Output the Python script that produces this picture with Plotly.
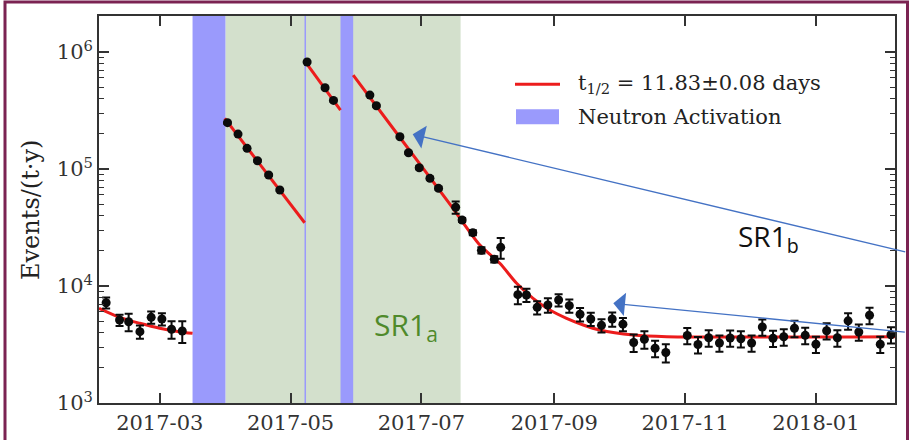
import plotly.graph_objects as go

# ---------------- data ----------------
pt_dates = [
    # before first activation
    "2017-02-04", "2017-02-10 06:00", "2017-02-14 12:00", "2017-02-19 18:00",
    "2017-02-25", "2017-03-02", "2017-03-06 12:00", "2017-03-11 12:00",
    # after first activation
    "2017-04-01 14:00", "2017-04-06 12:00", "2017-04-10 17:00", "2017-04-15 14:00",
    "2017-04-20 19:00", "2017-04-26",
    # after the short activation
    "2017-05-08 17:00", "2017-05-17 02:00", "2017-05-21",
    # after second activation
    "2017-06-07", "2017-06-10", "2017-06-21", "2017-06-25", "2017-06-30",
    "2017-07-05", "2017-07-09", "2017-07-17", "2017-07-20", "2017-07-25",
    "2017-07-29", "2017-08-04", "2017-08-07", "2017-08-15", "2017-08-19",
    "2017-08-24", "2017-08-29", "2017-09-03", "2017-09-08", "2017-09-13",
    "2017-09-18", "2017-09-23", "2017-09-28", "2017-10-03", "2017-10-08",
    "2017-10-13", "2017-10-18", "2017-10-23", "2017-11-02", "2017-11-07",
    "2017-11-12", "2017-11-17", "2017-11-22", "2017-11-27", "2017-12-02",
    "2017-12-07", "2017-12-12", "2017-12-17", "2017-12-22", "2017-12-27",
    "2018-01-01", "2018-01-06", "2018-01-11", "2018-01-16", "2018-01-21",
    "2018-01-26", "2018-01-31", "2018-02-05",
]
pt_values = [
    7200, 5120, 4950, 4070, 5400, 5220, 4270, 4125,
    249000, 199000, 150300, 117800, 88900, 66200,
    822000, 495000, 386000,
    428500, 347500, 188800, 137800, 102600,
    83300, 68400, 47100, 36650, 28560,
    20190, 16910, 21410, 8430, 8380,
    6570, 6880, 7590, 6790, 5730,
    5220, 4610, 5220, 4720, 3290,
    3510, 2935, 2700, 3775, 3160,
    3610, 3260, 3595, 3545, 3260,
    4465, 3580, 3680, 4350, 3790,
    3180, 4150, 3610, 5040, 4045,
    5620, 3180, 3835,
]
pt_err_pct = [
    11, 11, 17, 13, 12, 12, 17, 21,
    2, 2, 2, 2, 2, 2,
    2, 2, 2,
    2, 2, 2, 2, 3,
    3, 3, 12, 4, 5,
    6, 6, 20, 17, 13,
    13, 14, 12, 13, 13,
    13, 13, 14, 13, 17,
    17, 16, 18, 16, 16,
    16, 16, 16, 16, 16,
    16, 16, 16, 16, 16,
    16, 16, 16, 16, 16,
    16, 16, 16,
]

# fitted curves (t1/2 = 11.83 d)
fit1_dates = ["2017-01-31 16:00", "2017-02-10 07:00", "2017-02-19 17:00",
              "2017-03-01", "2017-03-10", "2017-03-16 07:00"]
fit1_values = [6445, 5400, 4800, 4350, 4070, 3940]
fit2_dates = ["2017-03-31 07:00", "2017-05-07 14:00"]
fit2_values = [271000, 34750]
fit3_dates = ["2017-05-08 10:00", "2017-05-24 07:00"]
fit3_values = [800000, 319000]
fit4_dates = ["2017-05-30 05:00", "2017-06-21", "2017-07-14 07:00", "2017-07-28 07:00",
              "2017-08-06 14:00", "2017-08-14 10:00", "2017-08-22 02:00",
              "2017-08-29 22:00", "2017-09-06 17:00", "2017-09-14 12:00",
              "2017-09-22 05:00", "2017-10-07 19:00", "2017-10-23 10:00",
              "2018-02-06 21:00"]
fit4_values = [635300, 185900, 50200, 22400, 15630, 10550, 7850, 6235, 5295,
               4645, 4205, 3810, 3690, 3690]

# periods
neutron_starts = ["2017-03-16 07:00", "2017-05-07 12:00", "2017-05-24 07:00"]
neutron_ends = ["2017-03-31 15:00", "2017-05-08 05:00", "2017-05-30 05:00"]
sr1a_start = "2017-03-31 15:00"
sr1a_end = "2017-07-19 07:00"

x_range = ["2017-01-31 16:00", "2018-02-06 21:00"]
xtick_vals = ["2017-03-01", "2017-05-01", "2017-07-01", "2017-09-01",
              "2017-11-01", "2018-01-01"]
xtick_text = ["2017-03", "2017-05", "2017-07", "2017-09", "2017-11", "2018-01"]
y_range_log = [3, 6.308]
ytick_vals = [1e3, 1e4, 1e5, 1e6]
ytick_text = ["10<sup>3</sup>", "10<sup>4</sup>", "10<sup>5</sup>", "10<sup>6</sup>"]
yminor_vals = [m * 10 ** e for e in (3, 4, 5, 6) for m in range(2, 10)]

legend_fit = "t<sub>1/2</sub> = 11.83±0.08 days"
legend_na = "Neutron Activation"
y_title = "Events/(t·y)"

# ---------------- styling / layout geometry ----------------
W, H = 910, 440
L, R, T, B = 99, 15, 16, 37
PW, PH = W - L - R, H - T - B


def px(x):
    return (x - L) / PW


def py(y):
    return (H - B - y) / PH


SERIF = "DejaVu Serif"
RED = "#ec1c1c"
BLUE_BAND = "#9a9afc"
GREEN_BAND = "#d3e0cc"
AXC = "#333333"

pt_err = [v * p / 100 for v, p in zip(pt_values, pt_err_pct)]

fig = go.Figure()

for fd, fv, shp in [(fit1_dates, fit1_values, "spline"), (fit2_dates, fit2_values, "linear"),
                    (fit3_dates, fit3_values, "linear"), (fit4_dates, fit4_values, "spline")]:
    fig.add_trace(go.Scatter(x=fd, y=fv, mode="lines",
                             line=dict(color=RED, width=3, shape=shp, smoothing=0.8),
                             showlegend=False, hoverinfo="skip"))

fig.add_trace(go.Scatter(
    x=pt_dates, y=pt_values, mode="markers",
    marker=dict(size=9, color="#0b0b0b"),
    error_y=dict(type="data", array=pt_err, color="#0b0b0b", thickness=2, width=4),
    showlegend=False))

shapes = []
shapes.append(dict(type="rect", xref="x", yref="paper", x0=sr1a_start, x1=sr1a_end,
                   y0=0, y1=1, fillcolor=GREEN_BAND, line=dict(width=0), layer="below"))
for s, e in zip(neutron_starts, neutron_ends):
    shapes.append(dict(type="rect", xref="x", yref="paper", x0=s, x1=e, y0=0, y1=1,
                       fillcolor=BLUE_BAND, line=dict(width=0), layer="below"))
# manual legend
shapes.append(dict(type="line", xref="paper", yref="paper", x0=px(515), x1=px(560),
                   y0=py(84.3), y1=py(84.3), line=dict(color=RED, width=3)))
shapes.append(dict(type="rect", xref="paper", yref="paper", x0=px(516), x1=px(559),
                   y0=py(124.3), y1=py(109.3), fillcolor=BLUE_BAND, line=dict(width=0)))
# slide frame
shapes.append(dict(type="rect", xref="paper", yref="paper", x0=px(5), x1=px(907.5),
                   y0=py(448), y1=py(2), line=dict(color="#7b2352", width=3)))

annotations = [
    dict(text=y_title, xref="paper", yref="paper", x=px(31), y=py(210), textangle=-90,
         showarrow=False, font=dict(family=SERIF, size=24, color="#222"),
         xanchor="center", yanchor="middle"),
    dict(text=legend_fit, xref="paper", yref="paper", x=px(576), y=py(84),
         showarrow=False, font=dict(family=SERIF, size=21, color="#222"),
         xanchor="left", yanchor="middle"),
    dict(text=legend_na, xref="paper", yref="paper", x=px(576), y=py(117),
         showarrow=False, font=dict(family=SERIF, size=21, color="#222"),
         xanchor="left", yanchor="middle"),
    dict(text="SR1<sub>a</sub>", xref="paper", yref="paper", x=px(372), y=py(326),
         showarrow=False, font=dict(family="Open Sans", size=30, color="#4f8a2b"),
         xanchor="left", yanchor="middle"),
    dict(text="SR1<sub>b</sub>", xref="paper", yref="paper", x=px(736), y=py(238),
         showarrow=False, font=dict(family="Open Sans", size=28, color="#111"),
         xanchor="left", yanchor="middle"),
    dict(text="", xref="paper", yref="paper", x=px(412.7), y=py(134.3),
         ax=494, ay=118, axref="pixel", ayref="pixel", showarrow=True,
         arrowhead=1, arrowsize=3.0, arrowwidth=1.3, arrowcolor="#4472c4",
         standoff=0, startstandoff=0),
    dict(text="", xref="paper", yref="paper", x=px(613.3), y=py(303.3),
         ax=293, ay=29, axref="pixel", ayref="pixel", showarrow=True,
         arrowhead=1, arrowsize=3.0, arrowwidth=1.3, arrowcolor="#4472c4",
         standoff=0, startstandoff=0),
]

fig.update_layout(
    width=W, height=H, margin=dict(l=L, r=R, t=T, b=B, autoexpand=False),
    paper_bgcolor="white", plot_bgcolor="white",
    shapes=shapes, annotations=annotations, showlegend=False,
    xaxis=dict(type="date", range=x_range, tickvals=xtick_vals, ticktext=xtick_text,
               ticks="inside", ticklen=10, tickwidth=1.5, tickcolor=AXC,
               showline=True, linecolor=AXC, linewidth=1.8, mirror="ticks",
               showgrid=False, zeroline=False, automargin=False,
               tickfont=dict(family=SERIF, size=21, color="#333")),
    yaxis=dict(type="log", range=y_range_log, tickvals=ytick_vals, ticktext=ytick_text,
               ticks="inside", ticklen=10, tickwidth=1.5, tickcolor=AXC,
               showline=True, linecolor=AXC, linewidth=1.8, mirror="ticks",
               showgrid=False, zeroline=False, automargin=False,
               tickfont=dict(family=SERIF, size=21, color="#333"),
               minor=dict(tickvals=yminor_vals, ticks="inside", ticklen=5,
                          tickwidth=1.2, tickcolor=AXC, showgrid=False)),
)

fig.write_html("out.html")
